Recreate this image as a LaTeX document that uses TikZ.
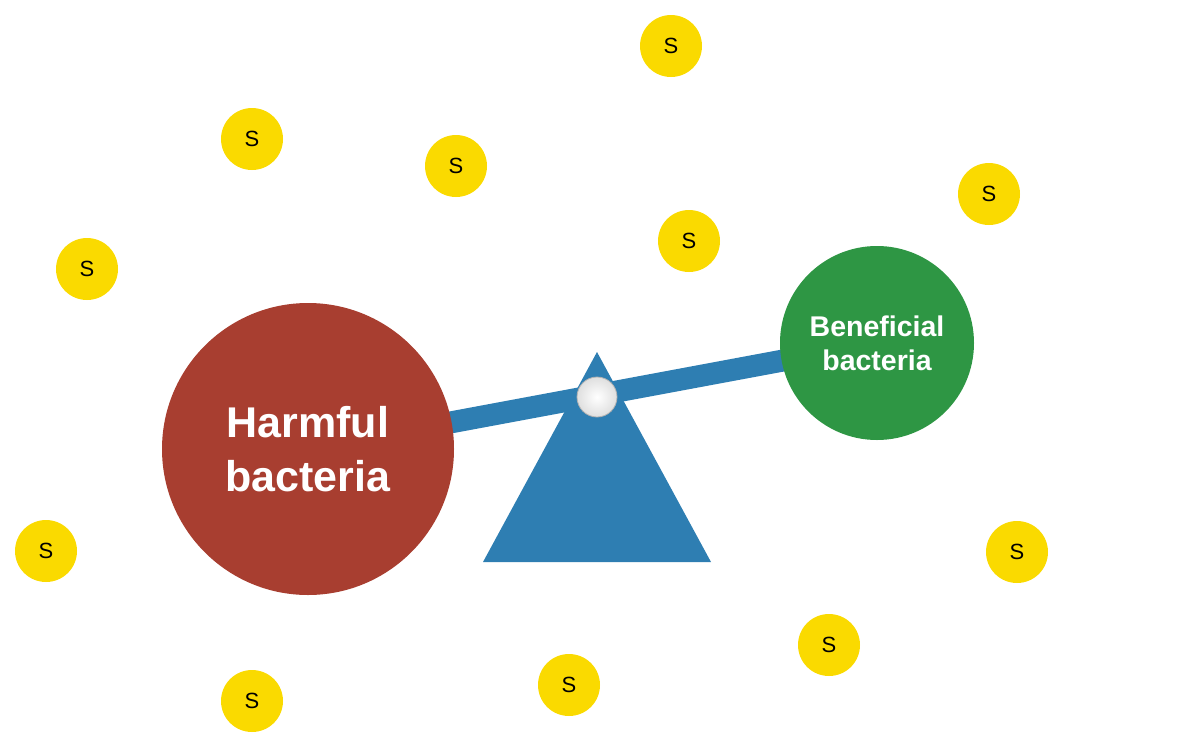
\documentclass[tikz,border=0pt]{standalone}
\usepackage{fontspec}
\setmainfont{Liberation Sans}
\definecolor{harmred}{RGB}{168,62,48}
\definecolor{goodgreen}{RGB}{46,150,68}
\definecolor{beamblue}{RGB}{46,126,178}
\definecolor{coinyellow}{RGB}{250,218,0}
\pgfdeclarelayer{bg}
\pgfsetlayers{bg,main}
\begin{document}
\begin{tikzpicture}[x=1pt,y=-1pt,
  coin/.style={circle, fill=coinyellow, minimum size=62pt, inner sep=0pt,
    font=\fontsize{22}{22}\selectfont, text=black},
  bigcirc/.style={circle, inner sep=0pt, text=white, align=center, font=\bfseries}]
\useasboundingbox (0,0) rectangle (1200,753);
% fulcrum
\coordinate (apex) at (597,352);
\coordinate (bl) at (483,562);
\coordinate (br) at (711,562);
\fill[beamblue] (apex) -- (br) -- (bl) -- cycle;
% bacteria
\node[bigcirc, fill=harmred, minimum size=292pt,
  font=\bfseries\fontsize{43}{54}\selectfont] (harm) at (308,449) {Harmful\\bacteria};
\node[bigcirc, fill=goodgreen, minimum size=194pt,
  font=\bfseries\fontsize{28.5}{34}\selectfont] (good) at (877,343) {Beneficial\\bacteria};
\begin{pgfonlayer}{bg}
\draw[beamblue, line width=22pt] (harm.center) -- (good.center);
\end{pgfonlayer}
% pivot ball
\node[circle, minimum size=40pt, inner sep=0pt, draw=gray!60, line width=0.8pt,
  inner color=white, outer color=gray!25] (ball) at (597,397) {};
% coins
\node[coin] (c1) at (671,46) {S};
\node[coin] (c2) at (252,139) {S};
\node[coin] (c3) at (456,166) {S};
\node[coin] (c4) at (989,194) {S};
\node[coin] (c5) at (689,241) {S};
\node[coin] (c6) at (87,269) {S};
\node[coin] (c7) at (46,551) {S};
\node[coin] (c8) at (1017,552) {S};
\node[coin] (c9) at (829,645) {S};
\node[coin] (c10) at (569,685) {S};
\node[coin] (c11) at (252,701) {S};
\end{tikzpicture}
\end{document}
